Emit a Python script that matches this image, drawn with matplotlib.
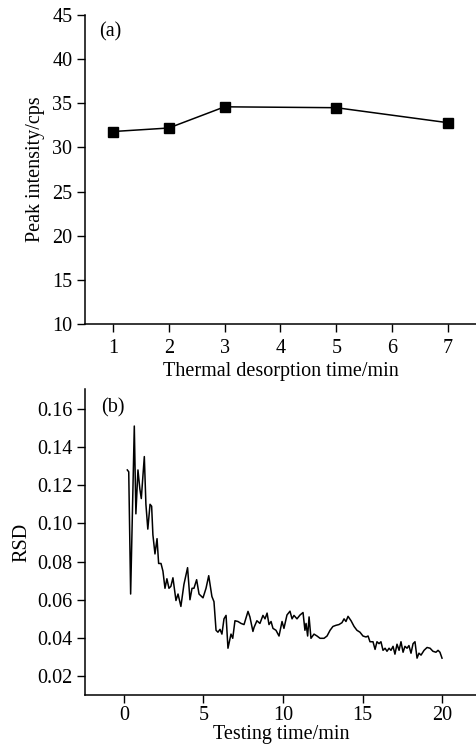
import matplotlib
matplotlib.use("Agg")
import matplotlib.pyplot as plt

plt.rcParams['font.family'] = ['Liberation Serif', 'DejaVu Serif']
plt.rcParams['font.size'] = 14

# Panel (a)
desorp_time = [1, 2, 3, 5, 7]
peak_intensity = [31.8, 32.2, 34.6, 34.5, 32.8]

# Panel (b)
test_time = [0.21, 0.30, 0.42, 0.65, 0.75, 0.88, 1.00, 1.09, 1.28, 1.38, 1.50, 1.64, 1.74, 1.82,
             1.95, 2.08, 2.18, 2.33, 2.45, 2.58, 2.70, 2.83, 2.95, 3.08, 3.27, 3.40, 3.58, 3.77,
             4.00, 4.15, 4.28, 4.40, 4.57, 4.72, 4.97, 5.16, 5.33, 5.53, 5.66, 5.79, 5.91, 6.04,
             6.16, 6.29, 6.42, 6.54, 6.73, 6.84, 6.98, 7.17, 7.36, 7.55, 7.80, 7.92, 8.11, 8.18,
             8.36, 8.55, 8.74, 8.87, 9.00, 9.12, 9.25, 9.37, 9.56, 9.75, 9.94, 10.06, 10.25,
             10.44, 10.57, 10.69, 10.88, 11.07, 11.26, 11.38, 11.45, 11.55, 11.64, 11.76, 11.95,
             12.14, 12.33, 12.58, 12.77, 12.96, 13.14, 13.33, 13.52, 13.71, 13.84, 13.96, 14.09,
             14.28, 14.47, 14.65, 14.84, 15.03, 15.22, 15.35, 15.47, 15.66, 15.79, 15.91, 16.04,
             16.16, 16.29, 16.42, 16.54, 16.67, 16.79, 16.92, 17.04, 17.17, 17.30, 17.42, 17.55,
             17.67, 17.80, 17.92, 18.05, 18.18, 18.30, 18.43, 18.55, 18.68, 18.87, 19.06, 19.25,
             19.43, 19.62, 19.75, 19.87, 20.00]
rsd = [0.128, 0.127, 0.063, 0.151, 0.105, 0.128, 0.118, 0.113, 0.135, 0.110, 0.097, 0.110, 0.109, 0.094,
       0.084, 0.092, 0.079, 0.079, 0.075, 0.066, 0.071, 0.066, 0.067, 0.0715, 0.0596, 0.063, 0.0565, 0.068,
       0.0768, 0.060, 0.066, 0.066, 0.0705, 0.063, 0.061, 0.066, 0.0726, 0.0617, 0.059, 0.044, 0.043, 0.0445,
       0.042, 0.050, 0.0518, 0.0346, 0.042, 0.0398, 0.049, 0.0486, 0.0476, 0.047, 0.0539, 0.051, 0.0434, 0.0455,
       0.049, 0.0476, 0.0518, 0.050, 0.053, 0.047, 0.0486, 0.045, 0.044, 0.041, 0.0486, 0.045, 0.052,
       0.054, 0.050, 0.0518, 0.050, 0.052, 0.0533, 0.044, 0.0476, 0.041, 0.051, 0.0398, 0.042,
       0.041, 0.0398, 0.0398, 0.041, 0.044, 0.046, 0.0466, 0.047, 0.048, 0.050, 0.0486, 0.0513,
       0.049, 0.046, 0.044, 0.043, 0.041, 0.0405, 0.041, 0.038, 0.038, 0.034, 0.038, 0.037,
       0.038, 0.0335, 0.0346, 0.033, 0.0346, 0.0335, 0.0356, 0.0315, 0.0367, 0.0335, 0.038, 0.0325,
       0.0356, 0.0346, 0.036, 0.032, 0.037, 0.038, 0.0294, 0.032, 0.031, 0.0335, 0.035, 0.0346,
       0.033, 0.0325, 0.0335, 0.0325, 0.0294]

W, H = 477, 749
fig = plt.figure(figsize=(W / 100, H / 100), dpi=100)

def style(ax, xpad=5, xlen=6):
    for s in ['top', 'right']:
        ax.spines[s].set_visible(False)
    for s in ['left', 'bottom']:
        ax.spines[s].set_linewidth(1.1)
    ax.tick_params(direction='out', length=6, width=1.0, labelsize=14.5)
    ax.tick_params(axis='x', pad=xpad, length=xlen)
    ax.tick_params(axis='y', pad=3)

ax1 = fig.add_axes([85 / W, 1 - 324 / H, 1 - 85 / W, (324 - 15) / H])
ax1.plot(desorp_time, peak_intensity, color='black', lw=1.1, marker='s', ms=6.5)
ax1.set_xlim(0.5, 7.52)
ax1.set_ylim(10, 45)
ax1.set_xticks([1, 2, 3, 4, 5, 6, 7])
ax1.set_yticks([10, 15, 20, 25, 30, 35, 40, 45])
ax1.set_xlabel('Thermal desorption time/min', labelpad=3, fontsize=14.5)
ax1.set_ylabel('Peak intensity/cps', labelpad=5, fontsize=14.5)
ax1.text(0.036, 0.945, '(a)', transform=ax1.transAxes, va='center', ha='left', fontsize=14.5)
style(ax1)

ax2 = fig.add_axes([85 / W, 1 - 695 / H, 1 - 85 / W, (695 - 389) / H])
ax2.plot(test_time, rsd, color='black', lw=1.1)
ax2.set_xlim(-2.45, 22.2)
ax2.set_ylim(0.0101, 0.1704)
ax2.set_xticks([0, 5, 10, 15, 20])
ax2.set_yticks([0.02, 0.04, 0.06, 0.08, 0.10, 0.12, 0.14, 0.16])
ax2.set_yticklabels(['0.02', '0.04', '0.06', '0.08', '0.10', '0.12', '0.14', '0.16'])
ax2.set_xlabel('Testing time/min', labelpad=0, fontsize=14.5)
ax2.set_ylabel('RSD', labelpad=4, fontsize=14.5)
ax2.text(0.04, 0.938, '(b)', transform=ax2.transAxes, va='center', ha='left', fontsize=14.5)
style(ax2, xpad=2.5, xlen=5.5)

fig.savefig('out.png', dpi=100)
